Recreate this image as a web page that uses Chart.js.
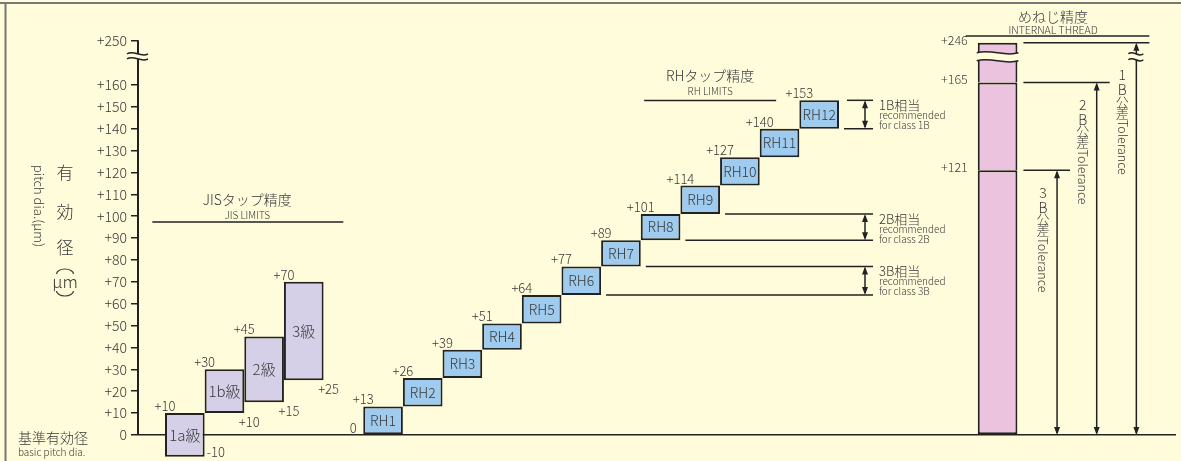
<!DOCTYPE html>
<html>
<head>
<meta charset="utf-8">
<script src="https://cdn.jsdelivr.net/npm/chart.js@4.4.1/dist/chart.umd.min.js"></script>
<style>
  html, body { margin: 0; padding: 0; background: #fffcdc; }
  canvas { display: block; }
</style>
</head>
<body>
<canvas id="tapChart" width="1181" height="461"></canvas>
<script>
// JIS tap classes, pitch diameter limits in µm
const jisClasses = ['1a級', '1b級', '2級', '3級'];
const jisLow  = [-10, 10, 15, 25];
const jisHigh = [10, 30, 45, 70];

// RH tap limits
const rhClasses = ['RH1', 'RH2', 'RH3', 'RH4', 'RH5', 'RH6', 'RH7', 'RH8', 'RH9', 'RH10', 'RH11', 'RH12'];
const rhLow  = [0, 13, 26, 39, 51, 64, 77, 89, 101, 114, 127, 140];
const rhHigh = [13, 26, 39, 51, 64, 77, 89, 101, 114, 127, 140, 153];

// internal thread tolerance (upper limit of each class)
const threadClasses = ['3B', '2B', '1B'];
const threadLimits = [121, 165, 246];

// RH limit recommended for each thread class
const recClasses = ['1B', '2B', '3B'];
const recRH = ['RH12', 'RH8', 'RH6'];

// y axis tick labels
const yTicks = [0, 10, 20, 30, 40, 50, 60, 70, 80, 90, 100, 110, 120, 130, 140, 150, 160, 250];

const FONT = '"Noto Sans CJK JP", "Noto Sans", sans-serif';
const INK = '#383838';
const LINE = '#222';
const BG = '#fffcdc';

// the axis is broken above +160: everything higher is squeezed
const BREAK_AT = 160;
const SQUEEZE = 0.2244;
const brk = v => v <= BREAK_AT ? v : BREAK_AT + (v - BREAK_AT) * SQUEEZE;

const jisData = jisClasses.map((c, i) => ({ x: i, y: [brk(jisLow[i]), brk(jisHigh[i])] }));
const rhData = rhClasses.map((c, i) => ({ x: i + 5, y: [brk(rhLow[i]), brk(rhHigh[i])] }));
// stacked segments of one column; upper ones skip their bottom edge so the
// divider between two classes stays a single line
const threadSets = threadClasses.map((c, i) => ({
  label: c,
  data: [{ x: 20.5, y: [brk(i ? threadLimits[i - 1] : 0), brk(threadLimits[i])] }],
  backgroundColor: '#ebc3df',
  borderWidth: i ? { top: 2, left: 2, right: 2, bottom: 0 } : 2
}));

function box(chart, di, j) {
  const p = chart.getDatasetMeta(di).data[j].getProps(['x', 'y', 'base', 'width'], true);
  return {
    l: p.x - p.width / 2, r: p.x + p.width / 2, cx: p.x,
    top: Math.min(p.y, p.base), bot: Math.max(p.y, p.base)
  };
}

function txt(ctx, s, x, y, size, align = 'center') {
  ctx.font = `300 ${size}px ${FONT}`;
  ctx.fillStyle = INK;
  ctx.textAlign = align;
  ctx.textBaseline = 'middle';
  ctx.fillText(s, x, y);
}

function seg(ctx, x1, y1, x2, y2, w = 1.5) {
  ctx.lineWidth = w;
  ctx.strokeStyle = LINE;
  ctx.beginPath();
  ctx.moveTo(x1, y1);
  ctx.lineTo(x2, y2);
  ctx.stroke();
}

function head(ctx, x, y, dir) {
  ctx.fillStyle = LINE;
  ctx.beginPath();
  ctx.moveTo(x, y);
  ctx.lineTo(x - 3, y + dir * 8);
  ctx.lineTo(x + 3, y + dir * 8);
  ctx.closePath();
  ctx.fill();
}

// double headed vertical arrow
function arrow(ctx, x, y1, y2) {
  seg(ctx, x, y1 + 2, x, y2 - 2, 1.5);
  head(ctx, x, y1, 1);
  head(ctx, x, y2, -1);
}

// break mark: a cream band between two wavy strokes
function wavyBreak(ctx, x1, x2, y1, y2) {
  const w = x2 - x1, a = 2.2;
  ctx.fillStyle = BG;
  ctx.beginPath();
  ctx.moveTo(x1, y1);
  ctx.bezierCurveTo(x1 + w / 3, y1 - 2 * a, x1 + 2 * w / 3, y1 + 2 * a, x2, y1);
  ctx.lineTo(x2, y2);
  ctx.bezierCurveTo(x1 + 2 * w / 3, y2 + 2 * a, x1 + w / 3, y2 - 2 * a, x1, y2);
  ctx.closePath();
  ctx.fill();
  ctx.strokeStyle = LINE;
  ctx.lineWidth = 1.5;
  [y1, y2].forEach(y => {
    ctx.beginPath();
    ctx.moveTo(x1, y);
    ctx.bezierCurveTo(x1 + w / 3, y - 2 * a, x1 + 2 * w / 3, y + 2 * a, x2, y);
    ctx.stroke();
  });
}

// "3 B 公差Tolerance" written top to bottom
function tolText(ctx, cls, x, y) {
  const chars = [cls[0], cls[1], '公', '差'];
  const offs = [0, 15, 27, 38];
  chars.forEach((ch, i) => txt(ctx, ch, x, y + offs[i], i < 2 ? 14 : 13));
  ctx.save();
  ctx.translate(x, y + 45);
  ctx.rotate(Math.PI / 2);
  txt(ctx, 'Tolerance', 0, 0, 12.5, 'left');
  ctx.restore();
}

const decor = {
  id: 'decor',
  beforeDraw(chart) {
    const { ctx, width, height } = chart;
    ctx.save();
    ctx.fillStyle = BG;
    ctx.fillRect(0, 0, width, height);
    ctx.strokeStyle = '#777';
    ctx.lineWidth = 2;
    ctx.beginPath();
    ctx.moveTo(0, 3);
    ctx.lineTo(width, 3);
    ctx.moveTo(5.5, 3);
    ctx.lineTo(5.5, height);
    ctx.stroke();
    ctx.restore();
  },
  afterDatasetsDraw(chart) {
    const { ctx } = chart;
    const xS = chart.scales.x, yS = chart.scales.y;
    const py = v => yS.getPixelForValue(brk(v));
    const y0 = py(0);
    ctx.save();

    // vertical axis with its break
    const axX = chart.chartArea.left;
    const y250 = py(250);
    seg(ctx, axX, y0, axX, y250 - 0.5, 2);
    wavyBreak(ctx, axX - 11, axX + 10, y250 + 13, y250 + 18);

    // axis titles
    txt(ctx, '有', 65, 173, 17);
    txt(ctx, '効', 65, 212, 17);
    txt(ctx, '径', 65, 248, 17);
    txt(ctx, 'μm', 65, 282, 17);
    ctx.strokeStyle = INK;
    ctx.lineWidth = 1.2;
    ctx.beginPath();
    ctx.ellipse(65, 274, 8.5, 5, 0, Math.PI, 2 * Math.PI);
    ctx.stroke();
    ctx.beginPath();
    ctx.ellipse(65, 291, 8.5, 5, 0, 0, Math.PI);
    ctx.stroke();
    ctx.save();
    ctx.translate(39, 165);
    ctx.rotate(Math.PI / 2);
    txt(ctx, 'pitch dia.(μm)', 0, 0, 13, 'left');
    ctx.restore();
    txt(ctx, '基準有効径', 18, 438, 14, 'left');
    txt(ctx, 'basic pitch dia.', 18, 452, 10, 'left');

    // JIS boxes
    jisClasses.forEach((c, i) => {
      const b = box(chart, 0, i);
      txt(ctx, c, b.cx, (b.top + b.bot) / 2, 15);
      txt(ctx, '+' + jisHigh[i], b.l, b.top - 7, 13);
      const low = jisLow[i];
      if (low < 0) {
        txt(ctx, String(low), b.r + 2, Math.min(b.bot, 452), 13, 'left');
      } else {
        txt(ctx, '+' + low, b.r + 5, b.bot + 9, 13);
      }
    });
    const jx = xS.getPixelForValue(1.5) + 3;
    txt(ctx, 'JISタップ精度', jx, 200, 14);
    txt(ctx, 'JIS LIMITS', jx, 215, 10);
    seg(ctx, jx - 95, 222, jx + 96, 222);

    // RH boxes
    rhClasses.forEach((c, i) => {
      const b = box(chart, 1, i);
      txt(ctx, c, b.cx, (b.top + b.bot) / 2, 14);
      txt(ctx, '+' + rhHigh[i], b.l, b.top - 7, 13);
      if (i === 0) txt(ctx, String(rhLow[0]), b.l - 10, b.bot - 6, 13);
    });
    const rx = xS.getPixelForValue(13.25);
    txt(ctx, 'RHタップ精度', rx, 76, 14);
    txt(ctx, 'RH LIMITS', rx, 91, 10);
    seg(ctx, rx - 66, 100.5, rx + 66, 100.5);

    // recommended RH limit for each thread class
    const bracketEnd = 873, bracketArrow = 865;
    recClasses.forEach((cls, k) => {
      const j = rhClasses.indexOf(recRH[k]);
      const b = box(chart, 1, j);
      const above = j + 1 < rhClasses.length ? box(chart, 1, j + 1) : null;
      const topStart = above ? above.r + 5 : b.r + 8;
      seg(ctx, topStart, b.top, bracketEnd, b.top);
      seg(ctx, b.r + 5, b.bot, bracketEnd, b.bot);
      arrow(ctx, bracketArrow, b.top, b.bot);
      txt(ctx, cls + '相当', 879, b.top + 5, 13, 'left');
      txt(ctx, 'recommended', 879, b.top + 15, 10, 'left');
      txt(ctx, 'for class ' + cls, 879, b.top + 25, 10, 'left');
    });

    // internal thread column
    const col = box(chart, 2 + threadClasses.length - 1, 0);
    wavyBreak(ctx, col.l - 1, col.r + 1, col.top + 10, col.top + 18);
    threadClasses.forEach((c, i) => {
      const y = py(threadLimits[i]);
      const ax = xS.getPixelForValue(22 + i);
      seg(ctx, col.r + 6, y, ax + 13, y);
      arrow(ctx, ax, y, y0);
      txt(ctx, '+' + threadLimits[i], col.l - 10, y - 3, 12.5, 'right');
      tolText(ctx, c, ax - 14, y + (i === threadClasses.length - 1 ? 32 : 22));
      if (i === threadClasses.length - 1) {
        wavyBreak(ctx, ax - 8, ax + 7, y + 11, y + 17);
      }
    });
    const tx = xS.getPixelForValue(21.9);
    txt(ctx, 'めねじ精度', tx, 17, 14);
    txt(ctx, 'INTERNAL THREAD', tx, 30, 10.5);
    seg(ctx, col.l - 12, 36, xS.getPixelForValue(24) + 13, 36);

    ctx.restore();
  }
};

new Chart(document.getElementById('tapChart'), {
  type: 'bar',
  data: {
    datasets: [
      { label: 'JIS', data: jisData, backgroundColor: '#d5d0e8' },
      { label: 'RH', data: rhData, backgroundColor: '#9fcbef' },
      ...threadSets
    ]
  },
  options: {
    responsive: false,
    animation: false,
    devicePixelRatio: 1,
    layout: { padding: { left: 0, right: 5, top: 0, bottom: 0 } },
    datasets: {
      bar: {
        grouped: false,
        barPercentage: 1,
        categoryPercentage: 1,
        borderSkipped: false,
        borderWidth: 2,
        borderColor: LINE,
        inflateAmount: 0
      }
    },
    plugins: {
      legend: { display: false },
      tooltip: { enabled: false }
    },
    scales: {
      x: {
        type: 'linear',
        min: -1.181,
        max: 25,
        offset: false,
        display: false,
        grid: { offset: false },
        ticks: { stepSize: 10 }
      },
      y: {
        min: -11.886,
        max: 198.857,
        afterFit: s => {
          s.width = 138;
          s.paddingTop = 0;
          s.paddingBottom = 0;
        },
        afterBuildTicks: s => { s.ticks = yTicks.map(v => ({ value: brk(v) })); },
        ticks: {
          autoSkip: false,
          padding: 4,
          color: INK,
          font: { family: FONT, size: 14, weight: 300 },
          callback: (v, i) => yTicks[i] === 0 ? '0' : '+' + yTicks[i]
        },
        grid: {
          color: c => yTicks[c.index] === 0 ? LINE : 'rgba(0,0,0,0)',
          tickColor: LINE,
          tickLength: 7,
          tickWidth: 1.5,
          lineWidth: 1.5
        },
        border: { display: false }
      }
    }
  },
  plugins: [decor]
});
</script>
</body>
</html>
